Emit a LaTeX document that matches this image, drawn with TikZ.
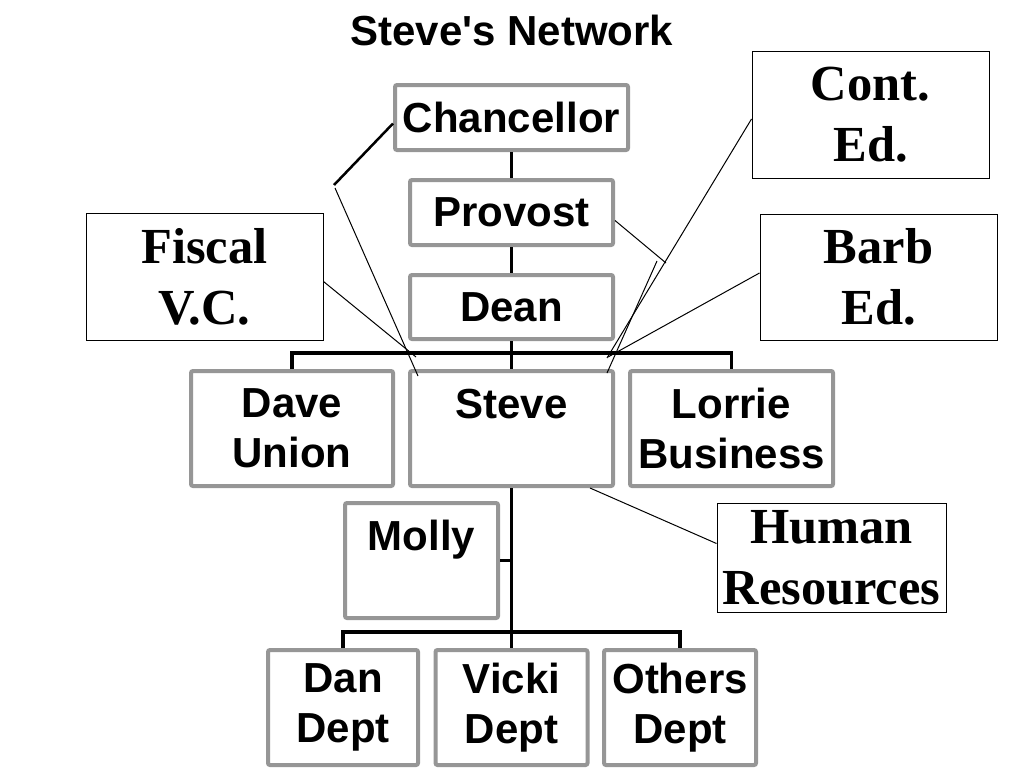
\documentclass[tikz,border=0pt]{standalone}
\usepackage{fontspec}
\setmainfont{Liberation Serif}
\setsansfont{Liberation Sans}[Ligatures=TeXOff]
\usepackage{xcolor}
\usetikzlibrary{positioning,calc}
\definecolor{boxgray}{RGB}{150,150,150}

\begin{document}
\begin{tikzpicture}[x=1pt,y=-1pt,
    orgbox/.style={draw=boxgray,line width=4pt,rounded corners=2pt,fill=white,inner sep=0pt,align=center,
        font=\sffamily\bfseries\fontsize{42}{50}\selectfont},
    notebox/.style={draw=black,line width=1pt,fill=white,inner sep=0pt,align=center,
        font=\rmfamily\bfseries\fontsize{50.5}{61}\selectfont},
    link/.style={line width=3.2pt},
    callout/.style={line width=1pt}]
    \useasboundingbox (0,0) rectangle (1024,768);
    \node[font=\sffamily\bfseries\fontsize{42}{50}\selectfont] (title) at (512,30) {Steve's Network};
    % chain of command
    \node[orgbox,minimum width=233pt,minimum height=65pt] (chan) at (511.5,117.5) {Chancellor};
    \node[orgbox,minimum width=203pt,minimum height=65pt] (prov) at (511.5,212.5) {Provost};
    \node[orgbox,minimum width=203pt,minimum height=64pt] (dean) at (511.5,307) {Dean};
    \node[orgbox,minimum width=202pt,minimum height=115pt] (dave) at (292,428.5) {Dave\\Union};
    \node[orgbox,minimum width=203pt,minimum height=115pt] (steve) at (511.5,428.5) {Steve\\~};
    \node[orgbox,minimum width=203pt,minimum height=115pt] (lorrie) at (731.5,428.5) {Lorrie\\Business};
    \node[orgbox,minimum width=153pt,minimum height=115pt] (molly) at (421.5,560.5) {Molly\\~};
    \node[orgbox,minimum width=150pt,minimum height=115pt] (dan) at (343,707.5) {Dan\\Dept};
    \node[orgbox,minimum width=152pt,minimum height=115pt] (vicki) at (511.5,707.5) {Vicki\\Dept};
    \node[orgbox,minimum width=152pt,minimum height=115pt] (others) at (680,707.5) {Others\\Dept};
    % notes
    \node[notebox,minimum width=237pt,minimum height=127pt] (fiscal) at (204.5,276.5) {Fiscal\\V.C.};
    \node[notebox,minimum width=237pt,minimum height=126pt] (cont) at (870.5,115) {Cont.\\Ed.};
    \node[notebox,minimum width=237pt,minimum height=126pt] (barb) at (878.5,277) {Barb\\Ed.};
    \node[notebox,minimum width=229pt,minimum height=109pt] (hr) at (831.5,557.5) {Human\\Resources};
    % links
    \draw[link] (chan) -- (prov);
    \draw[link] (prov) -- (dean);
    \draw[link] (dean) -- (steve);
    \draw[link] (dave.north) -- ++(0,-16) -| (lorrie.north);
    \draw[link] (steve.south) -- (vicki.north);
    \draw[link] (dan.north) -- ++(0,-16) -| (others.north);
    \draw[link] (molly.east) -- (molly.east -| steve.south);
    % callouts
    \coordinate (chanbend) at (334,185);
    \coordinate (chantip) at (418,376);
    \coordinate (provbend) at (666,263);
    \coordinate (provtip) at (607,373);
    \draw[link,line width=2.5pt] ([yshift=-6pt]chan.west) -- (chanbend);
    \draw[callout] ([xshift=1pt,yshift=-3pt]chanbend) -- (chantip);
    \draw[callout] ([yshift=-8pt]prov.east) -- (provbend);
    \draw[callout] ([xshift=-9pt,yshift=2pt]provbend) -- (provtip);
    \draw[callout] ([yshift=-5pt]fiscal.east) -- ([xshift=8pt,yshift=12pt]steve.north west);
    \draw[callout] ([yshift=-4pt]cont.west) -- ([xshift=-8pt,yshift=11pt]steve.north east);
    \draw[callout] ([yshift=4pt]barb.west) -- ([xshift=-7pt,yshift=12pt]steve.north east);
    \draw[callout] ([xshift=-25pt]steve.south east) -- ([yshift=14pt]hr.west);
\end{tikzpicture}
\end{document}
